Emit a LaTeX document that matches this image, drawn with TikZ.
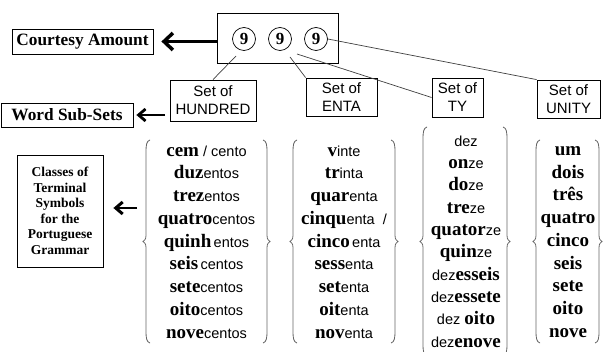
\documentclass[tikz,border=0pt]{standalone}
\usepackage{fontspec}
\setmainfont{Liberation Serif}
\newfontfamily\arialf{Liberation Sans}
\usetikzlibrary{arrows.meta}
\newcommand\Bw[1]{{\rmfamily\bfseries\fontsize{19}{22}\selectfont #1}}
\newcommand\LBr[3]{%
 \pgfmathsetmacro\bm{(#2+#3)/2}%
 \draw[bracestyle] ({#1+7},#2) .. controls ({#1+3.5},{#2+1}) and ({#1+3},{#2+5}) .. ({#1+3},{#2+12})
   -- ({#1+3},{\bm-6}) .. controls ({#1+3},{\bm-2}) and ({#1+1},{\bm-0.5}) .. (#1,\bm)
   .. controls ({#1+1},{\bm+0.5}) and ({#1+3},{\bm+2}) .. ({#1+3},{\bm+6})
   -- ({#1+3},{#3-12}) .. controls ({#1+3},{#3-5}) and ({#1+3.5},{#3-1}) .. ({#1+7},#3);}
\newcommand\RBr[3]{%
 \pgfmathsetmacro\bm{(#2+#3)/2}%
 \draw[bracestyle] ({#1-7},#2) .. controls ({#1-3.5},{#2+1}) and ({#1-3},{#2+5}) .. ({#1-3},{#2+12})
   -- ({#1-3},{\bm-6}) .. controls ({#1-3},{\bm-2}) and ({#1-1},{\bm-0.5}) .. (#1,\bm)
   .. controls ({#1-1},{\bm+0.5}) and ({#1-3},{\bm+2}) .. ({#1-3},{\bm+6})
   -- ({#1-3},{#3-12}) .. controls ({#1-3},{#3-5}) and ({#1-3.5},{#3-1}) .. ({#1-7},#3);}
\begin{document}
\begin{tikzpicture}[x=1pt,y=-1pt,
  box/.style={draw, line width=0.8pt, inner sep=0pt, align=center},
  titlebox/.style={box, font=\bfseries\fontsize{17.3}{20}\selectfont},
  setbox/.style={box, font=\arialf\fontsize{15}{18}\selectfont},
  digit/.style={circle, draw, line width=0.7pt, minimum size=23pt, inner sep=0pt, font=\bfseries\fontsize{17}{18}\selectfont},
  conn/.style={draw=black!75, line width=0.7pt},
  bracestyle/.style={draw=black!60, line width=0.8pt},
  column/.style={inner sep=0pt, align=center, font=\arialf\fontsize{14.5}{22.75}\selectfont},
  bigarrow/.style={line width=2.6pt, -{Straight Barb[length=9pt,width=17pt,line width=3.5pt]}},
  midarrow/.style={line width=1.2pt, -{Straight Barb[length=7pt,width=12pt,line width=2.8pt]}},
  smallarrow/.style={line width=2pt, -{Straight Barb[length=7pt,width=12pt,line width=3pt]}}]
\fill[white] (0,0) rectangle (605,352);
\useasboundingbox (0,0) rectangle (605,352);

% top box with digits
\node[box, minimum width=121pt, minimum height=50pt] (topbox) at (277.5,38) {};
\node[digit] (c1) at (244,39) {9};
\node[digit] (c2) at (280,39) {9};
\node[digit] (c3) at (316,39) {9};

% left labels
\node[titlebox, minimum width=141pt, minimum height=25pt] (court) at (82.5,41.5) {Courtesy Amount};
\node[titlebox, minimum width=132pt, minimum height=24pt] (wss) at (67,115) {Word Sub-Sets};
\node[box, minimum width=86pt, minimum height=112pt, font=\bfseries\fontsize{13.5}{15.5}\selectfont] (classes) at (60,211)
  {Classes of\\Terminal\\Symbols\\for the\\Portuguese\\Grammar};

% set boxes
\node[setbox, minimum width=86pt, minimum height=41pt] (hund) at (213,100.5) {Set of\\HUNDRED};
\node[setbox, minimum width=71pt, minimum height=38pt] (enta) at (341.5,97) {Set of\\ENTA};
\node[setbox, minimum width=51pt, minimum height=39pt] (ty) at (457.5,97.5) {Set of\\TY};
\node[setbox, minimum width=63pt, minimum height=38pt] (unity) at (568.5,99) {Set of\\UNITY};

% connectors
\coordinate (s1) at (236,56);
\coordinate (s2) at (290,57);
\coordinate (s3) at (297,54);
\draw[conn] (s1) -- (hund.north);
\draw[conn] (s2) -- (enta.north west);
\draw[conn] (s3) -- (ty.west);
\draw[conn] (c3.east) -- (unity.north west);

% arrows
\draw[bigarrow, shorten >=8pt] (topbox.west |- court.east) -- (court.east);
\coordinate (a2) at (165,115);
\draw[midarrow, shorten >=3pt] (a2) -- (wss.east);
\coordinate (a3) at (137,208);
\draw[smallarrow, shorten >=10pt] (a3) -- (a3 -| classes.east);

% braces
\LBr{143}{140}{343}\RBr{270}{140}{343}
\LBr{290}{140}{343}\RBr{398}{140}{343}
\LBr{420}{127}{356}\RBr{510}{127}{356}
\LBr{533}{140}{343}\RBr{602}{140}{343}

% columns
\node[column] (col1) at (206.5,242) {\Bw{cem} / cento\\ \Bw{duz}entos\\ \Bw{trez}entos\\ \Bw{quatro}centos\\ \Bw{quinh}\,entos\\ \Bw{seis}\,centos\\ \Bw{sete}centos\\ \Bw{oito}centos\\ \Bw{nove}centos};
\node[column] (col2) at (344,242) {\Bw{v}inte\\ \Bw{tr}inta\\ \Bw{quar}enta\\ \Bw{cinqu}enta~~/\\ \Bw{cinco}\,enta\\ \Bw{sess}enta\\ \Bw{set}enta\\ \Bw{oit}enta\\ \Bw{nov}enta};
\node[column, font=\arialf\fontsize{14.5}{22.3}\selectfont] (col3) at (466,241.5) {dez\\ \Bw{on}ze\\ \Bw{do}ze\\ \Bw{tre}ze\\ \Bw{quator}ze\\ \Bw{quin}ze\\ dez\Bw{esseis}\\ dez\Bw{essete}\\ dez \Bw{oito}\\ dez\Bw{enove}};
\node[column, font=\rmfamily\bfseries\fontsize{19}{22.75}\selectfont] (col4) at (568,242) {um\\ dois\\ três\\ quatro\\ cinco\\ seis\\ sete\\ oito\\ nove};
\end{tikzpicture}
\end{document}
